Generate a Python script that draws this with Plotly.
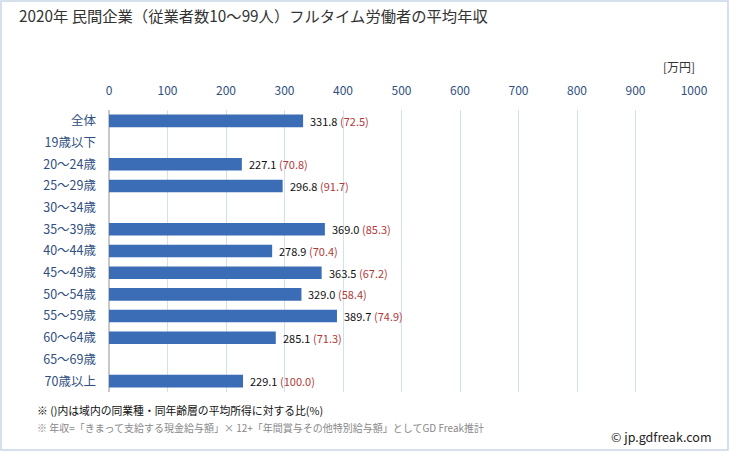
import plotly.graph_objects as go

categories = ["全体", "19歳以下", "20〜24歳", "25〜29歳", "30〜34歳", "35〜39歳", "40〜44歳",
              "45〜49歳", "50〜54歳", "55〜59歳", "60〜64歳", "65〜69歳", "70歳以上"]
salary = [331.8, None, 227.1, 296.8, None, 369.0, 278.9, 363.5, 329.0, 389.7, 285.1, None, 229.1]
ratio = [72.5, None, 70.8, 91.7, None, 85.3, 70.4, 67.2, 58.4, 74.9, 71.3, None, 100.0]
x_ticks = list(range(0, 1001, 100))

W, H = 729, 451
L, R, T, B = 109, 35, 110, 59
pw, ph = W - L - R, H - T - B

def px(x):
    return (x - L) / pw

def py(y):
    return 1 - (y - T) / ph

fig = go.Figure()
fig.add_trace(go.Bar(
    y=categories, x=[v if v is not None else 0 for v in salary], orientation="h",
    marker=dict(color="#3a6db6", line=dict(width=0)),
    width=0.58, hoverinfo="skip",
))

annotations = []
for c, v, r in zip(categories, salary, ratio):
    if v is None:
        continue
    annotations.append(dict(
        x=v, y=c, xref="x", yref="y", xanchor="left", yanchor="middle",
        xshift=5, showarrow=False,
        text=f"{v:.1f} <span style='color:#b03a3a'>({r:.1f})</span>",
        font=dict(size=11, color="#111111"),
    ))

annotations += [
    dict(x=px(17), y=py(15), xref="paper", yref="paper", xanchor="left", yanchor="middle",
         text="2020年 民間企業（従業者数10〜99人）フルタイム労働者の平均年収", showarrow=False,
         font=dict(size=15.3, color="#333333")),
    dict(x=px(697), y=py(67), xref="paper", yref="paper", xanchor="right", yanchor="middle",
         text="[万円]", showarrow=False, font=dict(size=12, color="#333333")),
    dict(x=px(35), y=py(410), xref="paper", yref="paper", xanchor="left", yanchor="middle",
         text="※ ()内は域内の同業種・同年齢層の平均所得に対する比(%)", showarrow=False,
         font=dict(size=10.8, color="#111111")),
    dict(x=px(35), y=py(427), xref="paper", yref="paper", xanchor="left", yanchor="middle",
         text="※ 年収=「きまって支給する現金給与額」× 12+「年間賞与その他特別給与額」としてGD Freak推計",
         showarrow=False, font=dict(size=10, color="#888888")),
    dict(x=px(714), y=py(436), xref="paper", yref="paper", xanchor="right", yanchor="middle",
         text="© jp.gdfreak.com", showarrow=False, font=dict(size=12.5, color="#222222")),
]

fig.update_layout(
    width=W, height=H,
    margin=dict(l=L, r=R, t=T, b=B),
    paper_bgcolor="white", plot_bgcolor="white",
    showlegend=False,
    font=dict(family="Noto Sans CJK JP, sans-serif"),
    annotations=annotations,
    bargap=0.4,
    shapes=[dict(type="rect", xref="paper", yref="paper",
                 x0=px(1), x1=px(W - 1), y0=py(H - 1), y1=py(1),
                 line=dict(color="#c9d6e6", width=1.5), fillcolor="rgba(0,0,0,0)", layer="below")],
    xaxis=dict(
        side="top", range=[0, 1000], tickvals=x_ticks, ticktext=[str(t) for t in x_ticks],
        showgrid=True, gridcolor="#d3e0ee", gridwidth=1, zeroline=True, zerolinecolor="#c8c8c8",
        tickfont=dict(size=12, color="#2f4f7f"), ticks="", fixedrange=True, showline=False,
        automargin=False, ticklabelstandoff=12,
    ),
    yaxis=dict(
        autorange="reversed", tickfont=dict(size=12.5, color="#2f4f7f"), ticks="",
        ticklabelstandoff=12, showgrid=False, showline=False, automargin=False, fixedrange=True,
    ),
)

fig.write_html("out.html", config={"displayModeBar": False, "staticPlot": True},
               post_script="document.body.style.margin='0';document.body.style.padding='0';")
